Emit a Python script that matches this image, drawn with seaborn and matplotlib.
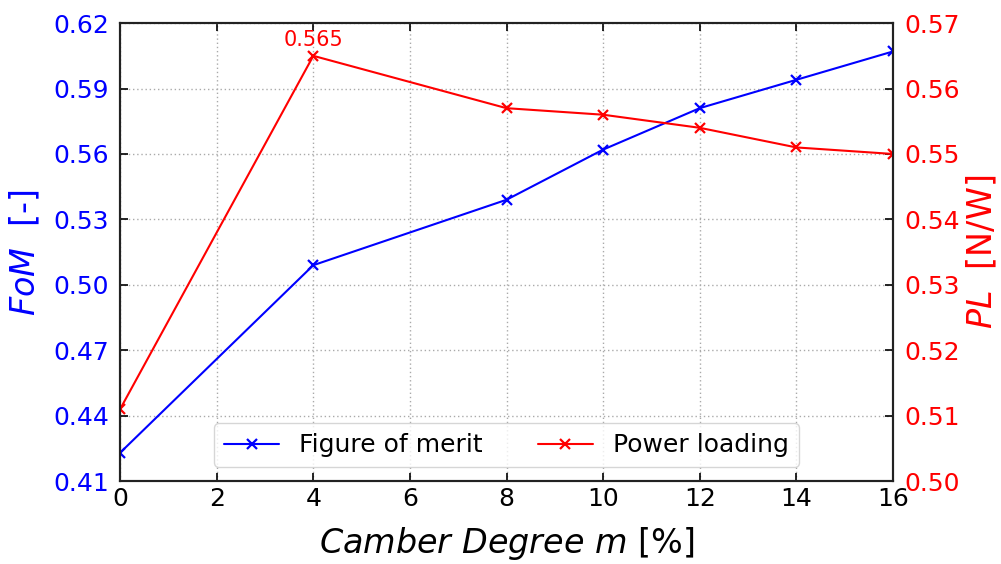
import matplotlib
matplotlib.use("Agg")
import matplotlib.pyplot as plt
import seaborn as sns
import pandas as pd

camber = [0, 4, 8, 10, 12, 14, 16]
fom = [0.423, 0.509, 0.539, 0.562, 0.581, 0.594, 0.607]
power_loading = [0.511, 0.565, 0.557, 0.556, 0.554, 0.551, 0.550]
fom_ticks = [0.41, 0.44, 0.47, 0.50, 0.53, 0.56, 0.59, 0.62]
pl_ticks = [0.50, 0.51, 0.52, 0.53, 0.54, 0.55, 0.56, 0.57]

sns.set_theme(style="white")
plt.rcParams["font.family"] = ["DejaVu Sans"]
plt.rcParams["mathtext.fontset"] = "dejavusans"
plt.rcParams["text.color"] = "black"

df = pd.DataFrame({"camber": camber, "fom": fom, "pl": power_loading})

fig = plt.figure(figsize=(10.01, 5.64), dpi=100)
ax = fig.add_axes([0.12, 0.147, 0.772, 0.812])
ax2 = ax.twinx()

line_kw = dict(marker="x", markersize=7, markeredgewidth=1.6, linewidth=1.5)
sns.lineplot(data=df, x="camber", y="fom", ax=ax, color="blue",
             markeredgecolor="blue", label="Figure of merit", legend=False,
             **line_kw)
sns.lineplot(data=df, x="camber", y="pl", ax=ax2, color="red",
             markeredgecolor="red", label="Power loading", legend=False,
             **line_kw)

# annotate peak power loading
i_max = power_loading.index(max(power_loading))
ax2.annotate(f"{power_loading[i_max]:.3f}", (camber[i_max], power_loading[i_max]),
             xytext=(0, 4), textcoords="offset points", ha="center", va="bottom",
             color="red", fontsize=15)

ax.set_xlim(0, 16)
ax.set_xticks(range(0, 17, 2))
ax.set_ylim(0.41, 0.62)
ax.set_yticks(fom_ticks)
ax.set_yticklabels([f"{t:.2f}" for t in fom_ticks])
ax2.set_ylim(0.50, 0.57)
ax2.set_yticks(pl_ticks)
ax2.set_yticklabels([f"{t:.2f}" for t in pl_ticks])

ax.grid(True, linestyle=(0, (1, 2)), color="#aaaaaa", linewidth=1.0)
ax.set_axisbelow(True)

for a in (ax, ax2):
    for s in a.spines.values():
        s.set_color("#222222")
        s.set_linewidth(1.5)

ax.tick_params(axis="x", direction="in", length=6, width=1.2, labelsize=18,
               colors="black", top=True, bottom=True, pad=4)
ax.tick_params(axis="y", direction="in", length=6, width=1.2, labelsize=18,
               labelcolor="blue", color="black", left=True, pad=8)
ax2.tick_params(axis="y", direction="in", length=6, width=1.2, labelsize=18,
                labelcolor="red", color="black", right=True, pad=8)

ax.set_xlabel(r"$Camber\ Degree\ m$ [%]", fontsize=24, color="black", labelpad=10)
ax.set_ylabel(r"$FoM$  [-]", fontsize=24, color="blue", labelpad=8)
ax2.set_ylabel(r"$PL$  [N/W]", fontsize=24, color="red", labelpad=4)

h1, l1 = ax.get_legend_handles_labels()
h2, l2 = ax2.get_legend_handles_labels()
leg = ax.legend(h1 + h2, l1 + l2, loc="lower center", ncol=2, fontsize=18,
                frameon=True, columnspacing=2.2, handlelength=2.2,
                bbox_to_anchor=(0.5, 0.0), borderaxespad=0.55,
                labelcolor="black")
leg.get_frame().set_edgecolor("#cccccc")
leg.set_zorder(5)

fig.savefig("out.png", dpi=100)
